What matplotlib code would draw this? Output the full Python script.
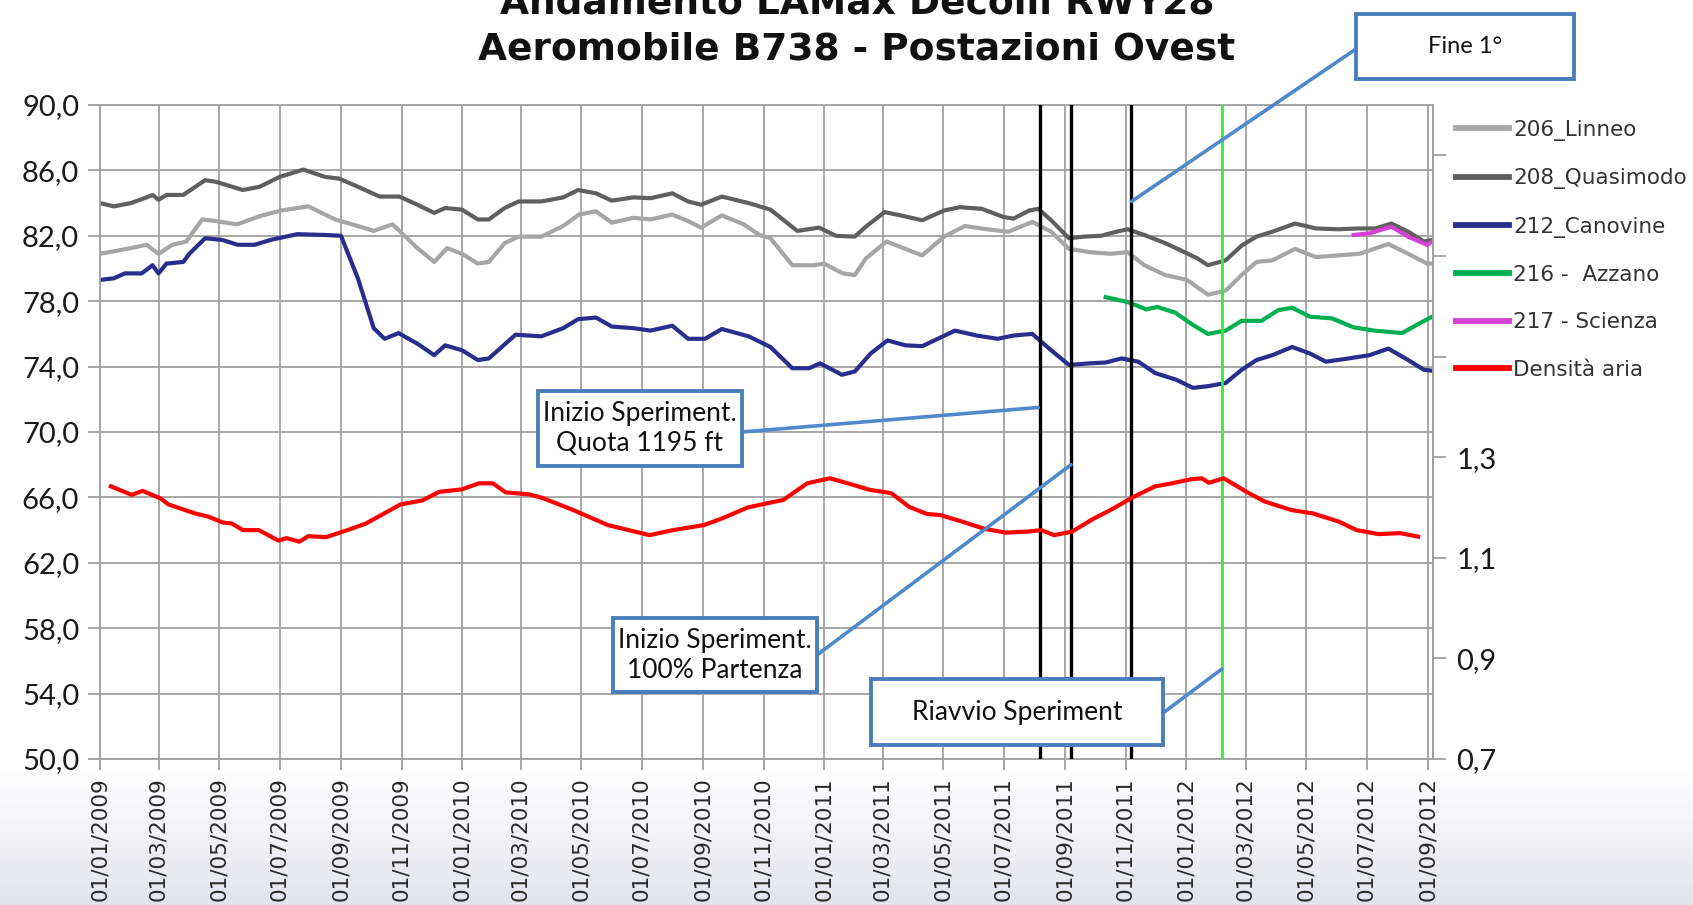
import matplotlib
matplotlib.use("Agg")
import matplotlib.pyplot as plt
import matplotlib.dates as mdates
import numpy as np
import pandas as pd
from matplotlib.patches import Rectangle
from matplotlib.ticker import FuncFormatter

# ---------------- data ----------------
title_line1 = "Andamento LAMax Decolli RWY28"
title_line2 = "Aeromobile B738 - Postazioni Ovest"

linneo_dates = ["2009-01-01", "2009-01-15", "2009-02-01", "2009-02-17", "2009-03-01", "2009-03-15",
                "2009-03-29", "2009-04-14", "2009-04-28", "2009-05-19", "2009-06-11", "2009-07-03",
                "2009-07-30", "2009-08-26", "2009-09-18", "2009-10-04", "2009-10-23", "2009-11-17",
                "2009-12-04", "2009-12-17", "2010-01-01", "2010-01-17", "2010-01-28", "2010-02-13",
                "2010-02-27", "2010-03-22", "2010-04-13", "2010-04-29", "2010-05-16", "2010-06-01",
                "2010-06-23", "2010-07-10", "2010-08-01", "2010-08-17", "2010-08-30", "2010-09-20",
                "2010-10-12", "2010-10-28", "2010-11-08", "2010-11-30", "2010-12-22", "2011-01-01",
                "2011-01-20", "2011-02-01", "2011-02-12", "2011-03-05", "2011-03-24", "2011-04-10",
                "2011-05-02", "2011-05-23", "2011-06-14", "2011-07-06", "2011-07-30", "2011-08-18",
                "2011-09-05", "2011-09-26", "2011-10-17", "2011-11-03", "2011-11-20", "2011-12-11",
                "2012-01-02", "2012-01-23", "2012-02-10", "2012-02-26", "2012-03-12", "2012-03-28",
                "2012-04-20", "2012-05-11", "2012-06-02", "2012-06-24", "2012-07-23", "2012-08-12",
                "2012-08-31", "2012-09-05"]
linneo_vals = [80.9, 81.05, 81.25, 81.45, 80.9, 81.45,
               81.65, 83.0, 82.9, 82.7, 83.2, 83.55,
               83.8, 83.0, 82.6, 82.3, 82.7, 81.25,
               80.4, 81.25, 80.9, 80.3, 80.4, 81.55,
               81.95, 81.95, 82.6, 83.3, 83.5, 82.8,
               83.1, 83.0, 83.3, 82.9, 82.5, 83.25,
               82.7, 82.05, 81.85, 80.2, 80.2, 80.3,
               79.7, 79.6, 80.6, 81.65, 81.2, 80.8,
               81.95, 82.6, 82.4, 82.25, 82.85, 82.25,
               81.2, 81.0, 80.9, 81.0, 80.2, 79.6,
               79.3, 78.4, 78.65, 79.6, 80.4, 80.5,
               81.2, 80.7, 80.8, 80.9, 81.5, 80.9,
               80.3, 80.3]

quasimodo_dates = ["2009-01-01", "2009-01-15", "2009-02-01", "2009-02-17", "2009-02-23", "2009-03-01",
                   "2009-03-09", "2009-03-26", "2009-04-17", "2009-04-28", "2009-05-25", "2009-06-11",
                   "2009-07-01", "2009-07-25", "2009-08-16", "2009-08-30", "2009-09-18", "2009-10-10",
                   "2009-10-30", "2009-11-17", "2009-12-04", "2009-12-15", "2010-01-01", "2010-01-17",
                   "2010-01-28", "2010-02-13", "2010-02-27", "2010-03-22", "2010-04-13", "2010-04-28",
                   "2010-05-16", "2010-06-01", "2010-06-23", "2010-07-10", "2010-08-01", "2010-08-17",
                   "2010-08-30", "2010-09-20", "2010-10-17", "2010-11-08", "2010-12-05", "2010-12-27",
                   "2011-01-13", "2011-02-01", "2011-02-12", "2011-03-03", "2011-03-19", "2011-04-10",
                   "2011-05-02", "2011-05-18", "2011-06-09", "2011-07-01", "2011-07-11", "2011-07-27",
                   "2011-08-05", "2011-08-18", "2011-09-05", "2011-09-20", "2011-10-07", "2011-10-23",
                   "2011-11-03", "2011-11-20", "2011-12-11", "2011-12-27", "2012-01-13", "2012-01-23",
                   "2012-02-10", "2012-02-26", "2012-03-12", "2012-03-28", "2012-04-20", "2012-05-11",
                   "2012-06-02", "2012-06-24", "2012-07-10", "2012-07-26", "2012-08-12", "2012-08-28",
                   "2012-09-05"]
quasimodo_vals = [84.0, 83.8, 84.0, 84.35, 84.5, 84.2,
                  84.5, 84.5, 85.4, 85.3, 84.8, 85.0,
                  85.6, 86.05, 85.6, 85.5, 85.0, 84.4,
                  84.4, 83.9, 83.4, 83.7, 83.6, 83.0,
                  83.0, 83.7, 84.1, 84.1, 84.35, 84.8,
                  84.6, 84.15, 84.35, 84.3, 84.6, 84.1,
                  83.9, 84.4, 84.0, 83.6, 82.3, 82.5,
                  82.0, 81.95, 82.55, 83.45, 83.25, 82.95,
                  83.55, 83.75, 83.65, 83.15, 83.05, 83.55,
                  83.65, 82.95, 81.85, 81.95, 82.0, 82.25,
                  82.4, 82.05, 81.55, 81.1, 80.6, 80.2,
                  80.5, 81.4, 81.95, 82.25, 82.75, 82.45,
                  82.4, 82.45, 82.45, 82.75, 82.25, 81.65,
                  81.75]

canovine_dates = ["2009-01-01", "2009-01-15", "2009-01-26", "2009-02-12", "2009-02-23", "2009-03-01",
                  "2009-03-09", "2009-03-26", "2009-04-01", "2009-04-17", "2009-05-04", "2009-05-20",
                  "2009-06-06", "2009-06-22", "2009-07-19", "2009-08-16", "2009-09-01", "2009-09-18",
                  "2009-10-04", "2009-10-15", "2009-10-29", "2009-11-17", "2009-12-04", "2009-12-15",
                  "2010-01-01", "2010-01-17", "2010-01-28", "2010-02-24", "2010-03-22", "2010-04-13",
                  "2010-04-28", "2010-05-16", "2010-06-01", "2010-06-23", "2010-07-10", "2010-08-01",
                  "2010-08-17", "2010-09-03", "2010-09-20", "2010-10-17", "2010-11-08", "2010-11-30",
                  "2010-12-17", "2010-12-28", "2011-01-19", "2011-02-01", "2011-02-17", "2011-03-06",
                  "2011-03-24", "2011-04-10", "2011-05-13", "2011-06-04", "2011-06-25", "2011-07-11",
                  "2011-07-30", "2011-08-18", "2011-09-05", "2011-09-26", "2011-10-12", "2011-10-28",
                  "2011-11-14", "2011-12-01", "2011-12-22", "2012-01-08", "2012-01-23", "2012-02-10",
                  "2012-02-26", "2012-03-12", "2012-03-28", "2012-04-17", "2012-05-05", "2012-05-21",
                  "2012-06-13", "2012-07-04", "2012-07-23", "2012-08-12", "2012-08-28", "2012-09-05"]
canovine_vals = [79.3, 79.4, 79.7, 79.7, 80.2, 79.7,
                 80.3, 80.4, 80.9, 81.85, 81.75, 81.45,
                 81.45, 81.75, 82.1, 82.05, 82.0, 79.4,
                 76.35, 75.7, 76.05, 75.4, 74.7, 75.3,
                 75.0, 74.4, 74.5, 75.95, 75.85, 76.35,
                 76.9, 77.0, 76.45, 76.35, 76.2, 76.5,
                 75.7, 75.7, 76.3, 75.85, 75.2, 73.9,
                 73.9, 74.2, 73.5, 73.7, 74.8, 75.6,
                 75.3, 75.25, 76.2, 75.9, 75.7, 75.9,
                 76.0, 75.0, 74.1, 74.2, 74.25, 74.5,
                 74.3, 73.6, 73.2, 72.7, 72.8, 73.0,
                 73.8, 74.4, 74.7, 75.2, 74.8, 74.3,
                 74.5, 74.7, 75.1, 74.4, 73.8, 73.75]

azzano_dates = ["2011-10-12", "2011-11-03", "2011-11-22", "2011-12-03", "2011-12-21", "2012-01-08",
                "2012-01-23", "2012-02-10", "2012-02-26", "2012-03-17", "2012-04-03", "2012-04-17",
                "2012-05-05", "2012-05-27", "2012-06-18", "2012-07-09", "2012-08-06", "2012-08-22",
                "2012-09-05"]
azzano_vals = [78.25, 77.95, 77.5, 77.65, 77.3, 76.55,
               76.0, 76.2, 76.8, 76.8, 77.45, 77.6,
               77.05, 76.95, 76.4, 76.2, 76.05, 76.6,
               77.05]

scienza_dates = ["2012-06-18", "2012-07-04", "2012-07-20", "2012-07-26", "2012-08-12", "2012-08-31",
                 "2012-09-05"]
scienza_vals = [82.05, 82.15, 82.45, 82.55, 81.95, 81.45, 81.65]

densita_dates = ["2009-01-12", "2009-02-02", "2009-02-13", "2009-03-03", "2009-03-11", "2009-04-07",
                 "2009-04-20", "2009-05-05", "2009-05-14", "2009-05-25", "2009-06-10", "2009-06-30",
                 "2009-07-08", "2009-07-21", "2009-07-30", "2009-08-17", "2009-09-09", "2009-09-26",
                 "2009-10-31", "2009-11-22", "2009-12-09", "2010-01-01", "2010-01-18", "2010-02-01",
                 "2010-02-14", "2010-03-10", "2010-03-23", "2010-04-23", "2010-05-28", "2010-07-09",
                 "2010-08-02", "2010-09-02", "2010-09-20", "2010-10-16", "2010-11-04", "2010-11-21",
                 "2010-12-15", "2011-01-07", "2011-02-01", "2011-02-16", "2011-03-02", "2011-03-10",
                 "2011-03-28", "2011-04-15", "2011-04-28", "2011-05-20", "2011-06-11", "2011-07-03",
                 "2011-07-25", "2011-08-08", "2011-08-21", "2011-09-08", "2011-09-30", "2011-10-17",
                 "2011-11-09", "2011-12-01", "2011-12-18", "2012-01-06", "2012-01-17", "2012-01-24",
                 "2012-02-08", "2012-03-02", "2012-03-20", "2012-04-16", "2012-05-08", "2012-06-03",
                 "2012-06-21", "2012-07-13", "2012-08-04", "2012-08-22"]
densita_vals = [1.242, 1.225, 1.233, 1.218, 1.206, 1.188,
                1.182, 1.170, 1.168, 1.155, 1.155, 1.134,
                1.139, 1.132, 1.143, 1.141, 1.156, 1.168,
                1.206, 1.214, 1.231, 1.236, 1.248, 1.248,
                1.230, 1.226, 1.219, 1.195, 1.165, 1.145,
                1.155, 1.165, 1.178, 1.200, 1.208, 1.215,
                1.248, 1.258, 1.244, 1.235, 1.231, 1.228,
                1.201, 1.187, 1.185, 1.172, 1.158, 1.150,
                1.152, 1.155, 1.145, 1.152, 1.178, 1.195,
                1.221, 1.242, 1.248, 1.256, 1.258, 1.249,
                1.258, 1.231, 1.212, 1.195, 1.188, 1.172,
                1.155, 1.147, 1.149, 1.142]

event_black_dates = ["2011-08-07", "2011-09-07", "2011-11-07"]
event_green_date = "2012-02-06"

left_ticks = [50, 54, 58, 62, 66, 70, 74, 78, 82, 86, 90]
right_ticks = [0.7, 0.9, 1.1, 1.3, 1.5, 1.7, 1.9]
right_labels = ["0,7", "0,9", "1,1", "1,3", "", "", ""]

# ---------------- figure ----------------
W, H, DPI = 1693, 905, 100
fig = plt.figure(figsize=(W / DPI, H / DPI), dpi=DPI, facecolor="white")


def fx(x):
    return x / W


def fy(y):
    return 1 - y / H


# bottom gradient background
bg = fig.add_axes([0, 0, 1, fy(770)])
bg.set_zorder(-5)
grad = np.linspace(0, 1, 256)[:, None]
top_c = np.array([1.0, 1.0, 1.0])
bot_c = np.array([0xE0, 0xE5, 0xEE]) / 255.0
img = top_c[None, None, :] * (1 - grad[:, :, None]) + bot_c[None, None, :] * grad[:, :, None]
bg.imshow(img, aspect="auto", extent=[0, 1, 0, 1], origin="upper")
bg.set_axis_off()

L, R, T, B = 100, 1433, 105, 759
ax = fig.add_axes([fx(L), fy(B), fx(R) - fx(L), fy(T) - fy(B)])
ax.set_zorder(1)
ax2 = ax.twinx()
ax2.set_zorder(2)
ax2.patch.set_visible(False)

to_dt = pd.to_datetime
lw = 3.0
h1, = ax.plot(to_dt(linneo_dates), linneo_vals, color="#A6A6A6", lw=lw, label="206_Linneo")
h2, = ax.plot(to_dt(quasimodo_dates), quasimodo_vals, color="#5F5F5F", lw=lw, label="208_Quasimodo")
h3, = ax.plot(to_dt(canovine_dates), canovine_vals, color="#2B2D8C", lw=lw, label="212_Canovine")
h4, = ax.plot(to_dt(azzano_dates), azzano_vals, color="#00B050", lw=lw, label="216 -  Azzano")
h5, = ax.plot(to_dt(scienza_dates), scienza_vals, color="#D63FD6", lw=lw, label="217 - Scienza")
h6, = ax2.plot(to_dt(densita_dates), densita_vals, color="#FF0000", lw=lw, label="Densità aria")

for d in event_black_dates:
    ax.axvline(pd.Timestamp(d), color="black", lw=2.4, zorder=5)
ax.axvline(pd.Timestamp(event_green_date), color="#33EE33", lw=2.0, zorder=5)

# axes limits & ticks
ax.set_xlim(pd.Timestamp("2009-01-01"), pd.Timestamp("2012-09-06"))
ax.set_ylim(50, 90)
ax2.set_ylim(0.7, 2.0)
ax.set_yticks(left_ticks)
ax.yaxis.set_major_formatter(FuncFormatter(lambda v, p: f"{v:.1f}".replace(".", ",")))
ax2.set_yticks(right_ticks)
ax2.set_yticklabels(right_labels)

ax.xaxis.set_major_locator(mdates.MonthLocator(bymonth=[1, 3, 5, 7, 9, 11]))
ax.xaxis.set_major_formatter(mdates.DateFormatter("%d/%m/%Y"))
for lab in ax.get_xticklabels():
    lab.set_rotation(90)

grid_c = "#A0A0A0"
ax.grid(True, color=grid_c, lw=1.3)
ax.set_axisbelow(True)
for sp in ["left", "bottom", "right", "top"]:
    ax.spines[sp].set_color(grid_c)
    ax.spines[sp].set_linewidth(1.3)
for sp in ["left", "bottom", "right", "top"]:
    ax2.spines[sp].set_visible(False)
ax2.spines["right"].set_visible(True)
ax2.spines["right"].set_color(grid_c)
ax2.spines["right"].set_linewidth(1.3)

ax.tick_params(axis="y", direction="out", length=9, width=1.3, color=grid_c, pad=6,
               labelsize=21, labelcolor="#1A1A1A")
ax.tick_params(axis="x", direction="out", length=8, width=1.3, color=grid_c, pad=5,
               labelsize=15.5, labelcolor="#2A2A2A")
ax2.tick_params(axis="y", direction="out", length=9, width=1.3, color=grid_c, pad=8,
                labelsize=21, labelcolor="#1A1A1A")
for lab in ax.get_yticklabels() + ax2.get_yticklabels():
    lab.set_fontfamily("Lato")
for lab in ax.get_xticklabels():
    lab.set_fontfamily("DejaVu Sans")

# legend
leg = fig.legend(handles=[h1, h2, h3, h4, h5, h6], loc="upper left",
                 bbox_to_anchor=(fx(1456), fy(120)), frameon=False, fontsize=15.5,
                 handlelength=2.45, handletextpad=0.2, labelspacing=1.27,
                 borderpad=0, borderaxespad=0)
for t in leg.get_texts():
    t.set_color("#333333")
for ln in leg.get_lines():
    ln.set_linewidth(4.2)

# titles
fig.text(fx(857), fy(13), title_line1, ha="center", va="baseline",
         fontsize=27, fontweight="bold", color="#111111")
fig.text(fx(857), fy(60), title_line2, ha="center", va="baseline",
         fontsize=27, fontweight="bold", color="#111111")

# callout boxes
box_c = "#4A7EBB"
line_c = "#4F88CB"


def callout(x0, y0, x1, y1, text, tip_date, tip_val, anchor, fs=19):
    rect = Rectangle((fx(x0), fy(y1)), fx(x1) - fx(x0), fy(y0) - fy(y1), transform=fig.transFigure,
                     facecolor="white", edgecolor=box_c, lw=2.8, zorder=20)
    fig.add_artist(rect)
    fig.text(fx((x0 + x1) / 2), fy((y0 + y1) / 2), text, ha="center", va="center",
             fontsize=fs, family="Lato", color="#111111", zorder=21, linespacing=1.25)
    ax2.annotate("", xy=(pd.Timestamp(tip_date), tip_val), xycoords=("data", ax.transData),
                 xytext=(fx(anchor[0]), fy(anchor[1])), textcoords="figure fraction",
                 arrowprops=dict(arrowstyle="-", color=line_c, lw=2.6, shrinkA=0, shrinkB=0),
                 zorder=15, annotation_clip=False)


callout(1356, 14, 1574, 79, "Fine 1°", "2011-11-07", 84.1, (1356, 49), fs=17)
callout(538, 391, 742, 466, "Inizio Speriment.\nQuota 1195 ft", "2011-08-05", 71.5, (742, 432))
callout(613, 618, 817, 692, "Inizio Speriment.\n100% Partenza", "2011-09-07", 68.0, (817, 655))
callout(871, 679, 1163, 745, "Riavvio Speriment", "2012-02-06", 55.5, (1163, 713))

fig.savefig("out.png", dpi=DPI, facecolor="white")
